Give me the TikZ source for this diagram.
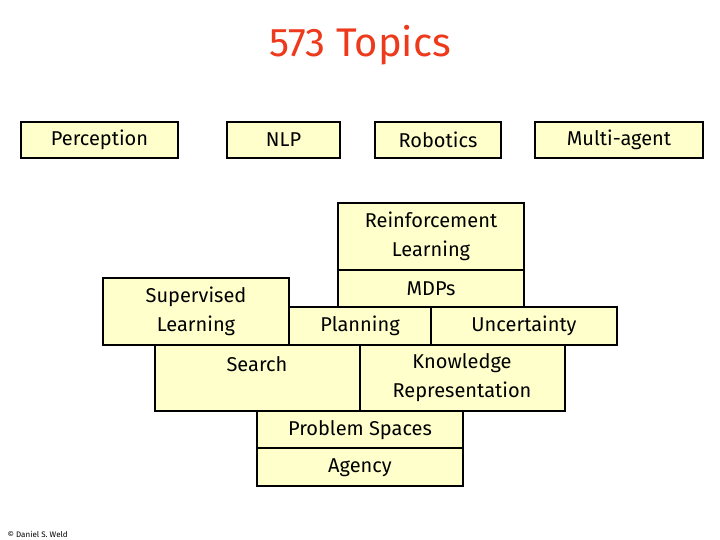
\documentclass[tikz,border=0pt]{standalone}
\usepackage{fontspec}
\setmainfont{Fira Sans}
\definecolor{cream}{HTML}{FFFFCC}
\definecolor{titlered}{HTML}{EE3A1C}
\begin{document}
\begin{tikzpicture}[x=1pt,y=-1pt,
  bx/.style={draw=black,line width=1.4pt,fill=cream},
  lbl/.style={font=\fontsize{20}{29}\selectfont,align=center}]
\useasboundingbox[fill=white] (0,0) rectangle (720,540);
\node[font=\fontsize{40}{44}\selectfont,text=titlered] (title) at (360,45) {573 Topics};
% top row
\draw[bx] (21,122) rectangle (178,158); \node[lbl] (per) at (99.5,140) {Perception};
\draw[bx] (227,122) rectangle (340,158); \node[lbl] (nlp) at (283.5,140) {NLP};
\draw[bx] (375,122) rectangle (501,158); \node[lbl] (rob) at (438,140) {Robotics};
\draw[bx] (535,122) rectangle (703,158); \node[lbl] (mul) at (619,140) {Multi-agent};
% stack
\draw[bx] (338,203) rectangle (524,270); \node[lbl] (rl) at (431,236) {Reinforcement\\Learning};
\draw[bx] (338,270) rectangle (524,307); \node[lbl] (mdp) at (431,289) {MDPs};
\draw[bx] (103,278) rectangle (289,345); \node[lbl] (sl) at (196,311) {Supervised\\Learning};
\draw[bx] (289,307) rectangle (431,345); \node[lbl] (pl) at (360,326) {Planning};
\draw[bx] (431,307) rectangle (617,345); \node[lbl] (unc) at (524,326) {Uncertainty};
\draw[bx] (155,345) rectangle (360,411); \node[lbl] (se) at (257,364) {Search};
\draw[bx] (360,345) rectangle (565,411); \node[lbl] (kr) at (462,378) {Knowledge\\Representation};
\draw[bx] (257,411) rectangle (463,448); \node[lbl] (ps) at (360,430) {Problem Spaces};
\draw[bx] (257,448) rectangle (463,486); \node[lbl] (ag) at (360,468) {Agency};
\node[font=\fontsize{8}{9}\selectfont,anchor=west] (cr) at (4,534) {© Daniel S. Weld};
\end{tikzpicture}
\end{document}
